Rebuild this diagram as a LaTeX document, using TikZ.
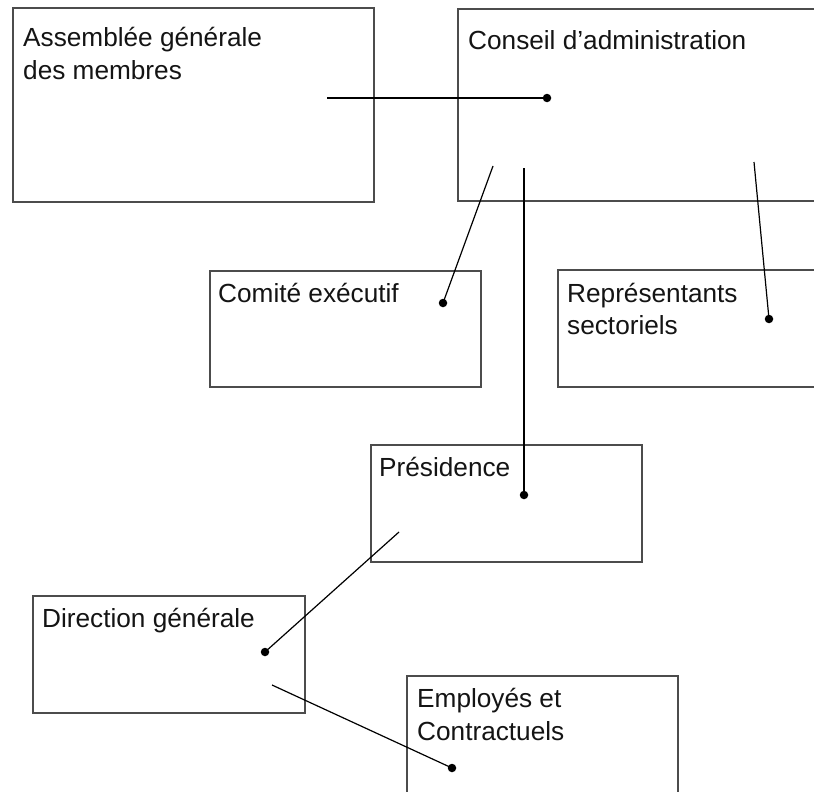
\documentclass[tikz,border=0pt]{standalone}
\usepackage{fontspec}
\setmainfont{Liberation Sans}
\begin{document}
\begin{tikzpicture}[x=1pt,y=-1pt,
  orgbox/.style={draw=black!70, line width=1.8pt, rectangle, anchor=north west, inner sep=0pt, outer sep=0pt},
  lbl/.style={anchor=base west, inner sep=0pt, font=\fontsize{26.2}{32}\selectfont, text=black!92},
  conn/.style={draw=black, line width=1.2pt},
  enddot/.style={circle, fill=black, inner sep=0pt, minimum size=8.5pt}]
\useasboundingbox (0,0) rectangle (814,792);
\fill[white] (0,0) rectangle (814,792);
\clip (0,0) rectangle (814,792);
% boxes
\node[orgbox, minimum width=361pt, minimum height=194pt] (ag) at (13,8) {};
\node[orgbox, minimum width=400pt, minimum height=192pt] (ca) at (458,9) {};
\node[orgbox, minimum width=271pt, minimum height=116pt] (ce) at (210,271) {};
\node[orgbox, minimum width=300pt, minimum height=117pt] (rs) at (558,270) {};
\node[orgbox, minimum width=271pt, minimum height=117pt] (pr) at (371,445) {};
\node[orgbox, minimum width=272pt, minimum height=117pt] (dg) at (33,596) {};
\node[orgbox, minimum width=271pt, minimum height=118pt] (ec) at (407,676) {};
% labels
\node[lbl] (agl1) at (23,47) {Assemblée générale};
\node[lbl] (agl2) at (23,80) {des membres};
\node[lbl] (cal) at (468,50) {Conseil d’administration};
\node[lbl] (cel) at (218,302) {Comité exécutif};
\node[lbl] (rsl1) at (567,302) {Représentants};
\node[lbl] (rsl2) at (567,334) {sectoriels};
\node[lbl] (prl) at (379,476) {Présidence};
\node[lbl] (dgl) at (42,627) {Direction générale};
\node[lbl] (ecl1) at (417,707) {Employés et};
\node[lbl] (ecl2) at (417,740) {Contractuels};
% connector ends
\coordinate (s1) at (327,98);  \coordinate (e1) at (547,98);
\coordinate (s2) at (493,166); \coordinate (e2) at (443,303);
\coordinate (s3) at (524,168); \coordinate (e3) at (524,495);
\coordinate (s4) at (754,162); \coordinate (e4) at (769,319);
\coordinate (s5) at (399,532); \coordinate (e5) at (265,652);
\coordinate (s6) at (272,685); \coordinate (e6) at (452,768);
% connectors
\foreach \i in {1,...,6} {
  \draw[conn] (s\i) -- (e\i);
  \node[enddot] (d\i) at (e\i) {};
}
\end{tikzpicture}
\end{document}
